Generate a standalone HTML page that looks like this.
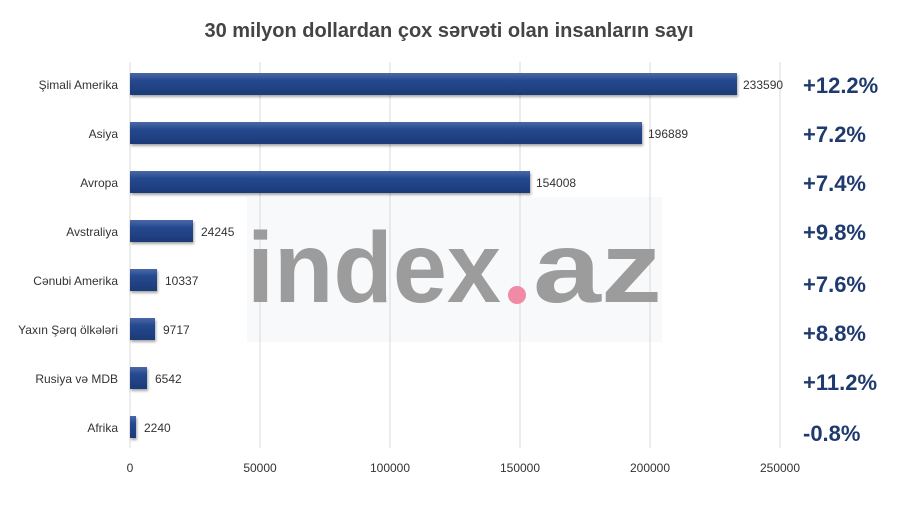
<!DOCTYPE html>
<html><head><meta charset="utf-8"><style>
body{margin:0;background:#fff;}
svg{display:block;font-family:"Liberation Sans",sans-serif;}
</style></head><body>
<svg width="898" height="525" viewBox="0 0 898 525">
<defs>
<linearGradient id="g" x1="0" y1="0" x2="0" y2="1">
<stop offset="0" stop-color="#4a68a8"/><stop offset="0.35" stop-color="#24488e"/><stop offset="1" stop-color="#1d3a78"/>
</linearGradient>
<filter id="sh"><feDropShadow dx="1" dy="2" stdDeviation="1.2" flood-opacity="0.35"/></filter>
</defs>
<rect width="898" height="525" fill="#fff"/>
<text x="449" y="37" text-anchor="middle" font-size="20" font-weight="bold" fill="#444">30 milyon dollardan çox sərvəti olan insanların sayı</text>
<g stroke="#d9d9d9" stroke-width="1">
<line x1="130" y1="62" x2="130" y2="448"/><line x1="260" y1="62" x2="260" y2="448"/><line x1="390" y1="62" x2="390" y2="448"/><line x1="520" y1="62" x2="520" y2="448"/><line x1="650" y1="62" x2="650" y2="448"/><line x1="780" y1="62" x2="780" y2="448"/>
</g>
<rect x="247" y="197" width="415" height="145" fill="#f8f9fa"/>
<g stroke="#d9d9d9" stroke-width="1"><line x1="260" y1="197" x2="260" y2="342"/><line x1="390" y1="197" x2="390" y2="342"/><line x1="520" y1="197" x2="520" y2="342"/><line x1="650" y1="197" x2="650" y2="342"/></g>
<text x="247" y="302" font-size="100" font-weight="bold" fill="#9c9c9c" textLength="254" lengthAdjust="spacingAndGlyphs">index</text>
<text x="533" y="302" font-size="100" font-weight="bold" fill="#9c9c9c" textLength="129" lengthAdjust="spacingAndGlyphs">az</text>
<circle cx="517" cy="295" r="9" fill="#f08aa5"/>
<g filter="url(#sh)" fill="url(#g)">
<rect x="130" y="73" width="607" height="22"/>
<rect x="130" y="122" width="512" height="22"/>
<rect x="130" y="171" width="400" height="22"/>
<rect x="130" y="220" width="63" height="22"/>
<rect x="130" y="269" width="27" height="22"/>
<rect x="130" y="318" width="25" height="22"/>
<rect x="130" y="367" width="17" height="22"/>
<rect x="130" y="416" width="6" height="22"/>
</g>
<g font-size="12" fill="#333">
<text x="743" y="89">233590</text><text x="648" y="138">196889</text><text x="536" y="187">154008</text><text x="201" y="236">24245</text><text x="165" y="285">10337</text><text x="163" y="334">9717</text><text x="155" y="383">6542</text><text x="144" y="432">2240</text>
</g>
<g font-size="12" fill="#333" text-anchor="end">
<text x="118" y="89">Şimali Amerika</text><text x="118" y="138">Asiya</text><text x="118" y="187">Avropa</text><text x="118" y="236">Avstraliya</text><text x="118" y="285">Cənubi Amerika</text><text x="118" y="334">Yaxın Şərq ölkələri</text><text x="118" y="383">Rusiya və MDB</text><text x="118" y="432">Afrika</text>
</g>
<g font-size="12" fill="#333" text-anchor="middle">
<text x="130" y="472">0</text><text x="260" y="472">50000</text><text x="390" y="472">100000</text><text x="520" y="472">150000</text><text x="650" y="472">200000</text><text x="780" y="472">250000</text>
</g>
<g font-size="22" font-weight="bold" fill="#1f3a6e">
<text x="803" y="93">+12.2%</text><text x="803" y="142">+7.2%</text><text x="803" y="191">+7.4%</text><text x="803" y="240">+9.8%</text><text x="803" y="292">+7.6%</text><text x="803" y="341">+8.8%</text><text x="803" y="390">+11.2%</text><text x="803" y="441">-0.8%</text>
</g>
</svg>
</body></html>
